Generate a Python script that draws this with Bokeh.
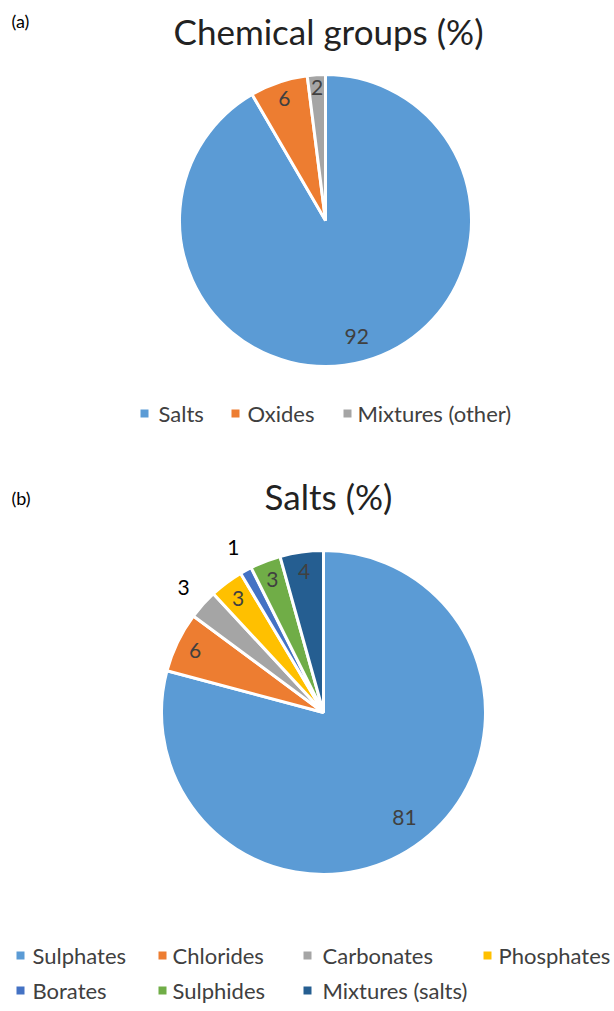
import math
from bokeh.plotting import figure
from bokeh.models import Range1d, ColumnDataSource
from bokeh.core.properties import value
from bokeh.embed import file_html
from bokeh.resources import INLINE

# ---- data (shares; labels are the rounded values) ----
groups = ["Salts", "Oxides", "Mixtures (other)"]
group_values = [91.6, 6.4, 2.0]
group_colors = ["#5B9BD5", "#ED7D31", "#A5A5A5"]

salts = ["Sulphates", "Chlorides", "Carbonates", "Phosphates", "Borates", "Sulphides", "Mixtures (salts)"]
salt_values = [80.5, 6.1, 3.0, 3.4, 1.2, 3.1, 4.4]
salt_colors = ["#5B9BD5", "#ED7D31", "#A5A5A5", "#FFC000", "#4472C4", "#70AD47", "#255E91"]
salt_outside = [False, False, True, False, True, False, False]

W, H = 614, 1011
FONT = "Lato"

p = figure(width=W, height=H, output_backend="svg", toolbar_location=None,
           x_range=Range1d(0, W), y_range=Range1d(0, H), min_border=0)
p.axis.visible = False
p.grid.visible = False
p.outline_line_color = None
p.background_fill_color = "white"


def Y(py):
    return H - py


def draw_pie(cx, cy, r, vals, colors, outside=None):
    total = float(sum(vals))
    starts, ends, lx, ly, lc = [], [], [], [], []
    acc = 0.0
    for i, v in enumerate(vals):
        a0 = math.pi / 2 - 2 * math.pi * acc / total
        a1 = math.pi / 2 - 2 * math.pi * (acc + v) / total
        starts.append(a0)
        ends.append(a1)
        mid = (a0 + a1) / 2
        out = outside[i] if outside else False
        if out:
            f = 1.16
        elif v / total > 0.5:
            f = 0.82
        elif v / total < 0.03:
            f = 0.91
        else:
            f = 0.88
        lx.append(cx + r * f * math.cos(mid))
        ly.append(Y(cy) + r * f * math.sin(mid))
        lc.append("#000000" if out else "#404040")
        acc += v
    src = ColumnDataSource(dict(s=starts, e=ends, c=colors))
    p.wedge(x=cx, y=Y(cy), radius=r, start_angle="s", end_angle="e", direction="clock",
            fill_color="c", line_color="white", line_width=3, source=src)
    lsrc = ColumnDataSource(dict(x=lx, y=ly, t=[str(int(v + 0.5)) for v in vals], c=lc))
    p.text(x="x", y="y", text="t", text_color="c", text_font=value(FONT),
           text_font_size="21px", text_align="center", text_baseline="middle", source=lsrc)


def legend(items, colors, sq_x, txt_x, ys):
    p.scatter(x=sq_x, y=[Y(y) for y in ys], marker="square", size=8, fill_color=colors,
              line_color=None)
    p.text(x=txt_x, y=[Y(y) for y in ys], text=items, text_font=value(FONT),
           text_font_size="22px", text_color="#404040", text_baseline="middle")


# panel (a)
p.text(x=[11], y=[Y(20)], text=["(a)"], text_font=value(FONT), text_font_size="18px",
       text_color="#000000", text_baseline="middle")
p.text(x=[328], y=[Y(30)], text=["Chemical groups (%)"], text_font=value(FONT),
       text_font_size="35px", text_color="#222222", text_align="center",
       text_baseline="middle")
draw_pie(325, 220, 146, group_values, group_colors)
legend(groups, group_colors, [144, 235, 347], [158, 247, 357], [413, 413, 413])

# panel (b)
p.text(x=[11], y=[Y(497)], text=["(b)"], text_font=value(FONT), text_font_size="18px",
       text_color="#000000", text_baseline="middle")
p.text(x=[328], y=[Y(495)], text=["Salts (%)"], text_font=value(FONT),
       text_font_size="35px", text_color="#222222", text_align="center",
       text_baseline="middle")
draw_pie(323, 712, 162, salt_values, salt_colors, salt_outside)
legend(salts, salt_colors,
       [20, 162, 307, 487, 20, 162, 307],
       [32, 172, 322, 498, 32, 172, 322],
       [955, 955, 955, 955, 990, 990, 990])

open("out.html", "w").write(file_html(p, INLINE))
